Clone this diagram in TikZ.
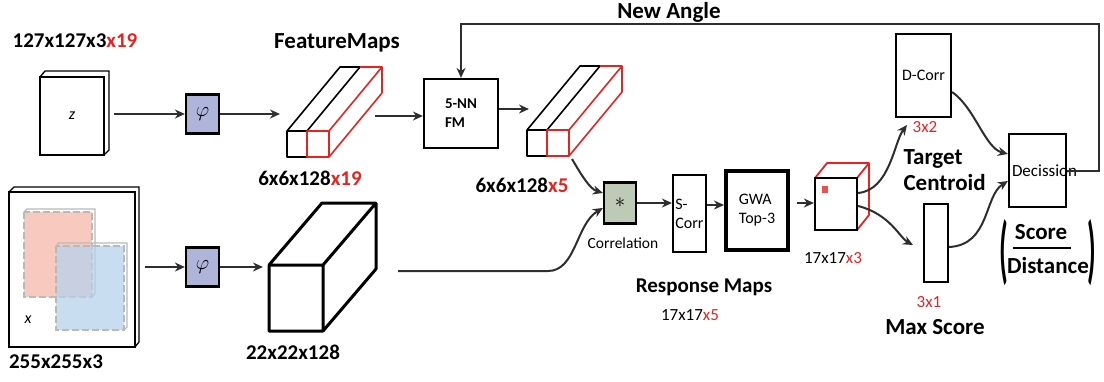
\documentclass[tikz,border=0pt]{standalone}
\usepackage{amsmath}
\usepackage{fontspec}
\setmainfont{Carlito}
\usetikzlibrary{arrows.meta,calc,positioning}
\definecolor{phiblue}{HTML}{AEB4DA}
\definecolor{corrgreen}{HTML}{BCCAB6}
\definecolor{hotred}{HTML}{E8231F}
\definecolor{patchred}{HTML}{F5B8AA}
\definecolor{patchblue}{HTML}{B7D2EC}
\definecolor{arrgray}{HTML}{2E2E2E}

\begin{document}
\begin{tikzpicture}[x=1pt,y=-1pt,
  lbl/.style={font=\fontsize{21}{25}\selectfont\bfseries},
  wrd/.style={font=\fontsize{23}{26}\selectfont\bfseries},
  sml/.style={font=\fontsize{16}{19}\selectfont},
  box/.style={draw,line width=2.2pt,inner sep=1pt,align=left},
  phibox/.style={box,fill=phiblue,minimum width=33pt,minimum height=39pt,font=\fontsize{20}{24}\selectfont},
  arr/.style={-{Stealth[length=10pt,width=9pt]},line width=2pt,draw=arrgray},
  patch/.style={draw=gray!55,dash pattern=on 7pt off 3pt,line width=1.6pt,fill opacity=0.75},
  paren/.style={font=\fontsize{28}{30}\selectfont\bfseries,inner sep=0pt}]
\useasboundingbox (0,0) rectangle (1104,381);

% input crops
\draw[line width=1.3pt] (40,77) -- (45,71) -- (109,71) -- (109,150) -- (104,155);
\node[box,minimum width=64pt,minimum height=78pt] (zimg) at (72,116) {\fontsize{16}{18}\selectfont\itshape z};
\node[lbl] (zsize) at (75,41) {127x127x3\textcolor{hotred}{x19}};

\draw[line width=1.3pt] (9,192) -- (14,187) -- (139,187) -- (139,342) -- (135,347);
\node[box,minimum width=126pt,minimum height=155pt] (ximg) at (72,269.5) {};
\draw[patch,fill=patchred] (24,212) rectangle (92,297);
\draw[draw=gray!55,line width=1.2pt] (24,212) -- (27,209) -- (95,209) -- (95,294) -- (92,297);
\draw[patch,fill=patchblue] (56,246) rectangle (124,330);
\draw[draw=gray!55,line width=1.2pt] (56,246) -- (59,243) -- (127,243) -- (127,327) -- (124,330);
\node[font=\fontsize{16}{18}\selectfont\itshape] (xlab) at (28,320) {x};
\node[lbl] (xsize) at (56,362) {255x255x3};

% backbone
\node[phibox] (phiz) at (202.5,114) {$\varphi$};
\node[phibox] (phix) at (202.5,267) {$\varphi$};
\draw[arr,shorten <=9pt] (zimg.east |- phiz) -- (phiz);
\draw[arr,shorten <=9pt] (ximg.east |- phix) -- (phix);

% feature maps (template and 5-NN)
\foreach \sx/\sy in {0/0,240/-1}{
\begin{scope}[shift={(\sx,\sy)}]
\draw[line width=1.6pt,line join=round] (287,131) rectangle (307,157) (287,131) -- (340,67) -- (360,67) (307,131) -- (360,67);
\draw[hotred,line width=1.6pt,line join=round] (307,131) rectangle (329,157) (360,67) -- (382,67) -- (382,93) -- (329,157) (329,131) -- (382,67);
\end{scope}}
\coordinate (fm1in) at (280,114);
\coordinate (fm1out) at (375,116);
\coordinate (fm2out) at (572,159);
\draw[arr] (phiz) -- (fm1in);
\node[wrd] (fmtitle) at (337,43) {FeatureMaps};
\node[lbl] (fm1size) at (310,178) {6x6x128\textcolor{hotred}{x19}};
\node[lbl] (fm2size) at (522,185) {6x6x128\textcolor{hotred}{x5}};

\node[box,minimum width=74pt,minimum height=69pt,font=\fontsize{15}{19}\selectfont\bfseries] (nnfm) at (461,113.5) {5-NN\\FM};
\draw[arr] (fm1out) -- (nnfm.west |- fm1out);
\coordinate (fm2in) at (529,109);
\draw[arr] (nnfm.east |- fm2in) -- (fm2in);

% search feature map
\draw[line width=3pt,line join=round] (269,265) rectangle (323,331) (269,265) -- (322,203) -- (376,203) -- (376,269) -- (323,331) (323,265) -- (376,203);
\coordinate (bigin) at (263,267);
\coordinate (bigout) at (398,271);
\draw[arr] (phix) -- (bigin);
\node[lbl] (bigsize) at (293,352) {22x22x128};

% correlation chain
\node[box,fill=corrgreen,minimum width=32pt,minimum height=41pt,font=\fontsize{20}{24}\selectfont] (corr) at (620,203) {$\ast$};
\node[font=\fontsize{15.5}{18}\selectfont] (corrlab) at (623,243) {Correlation};
\draw[arr] (fm2out) .. controls (582,176) and (590,189) .. (corr.west |- 0,193);
\draw[arr] (bigout) -- (548,271) .. controls (576,271) and (576,224) .. (corr.west |- 0,208);

\node[box,sml,minimum width=33pt,minimum height=77pt] (scorr) at (689.5,213.5) {S-\\Corr};
\node[box,sml,line width=4pt,minimum width=62pt,minimum height=79pt] (gwa) at (757,210.5) {GWA\\Top-3};
\draw[arr] (corr.east) -- (corr.east -| scorr.west);
\draw[arr] (scorr.east |- 0,205) -- (gwa.west |- 0,205);

\draw[hotred,line width=1.8pt,line join=round] (815,178) -- (827,163) -- (869,163) -- (869,215) -- (857,230) (857,178) -- (869,163);
\node[box,minimum width=42pt,minimum height=52pt] (cube) at (836,204) {};
\fill[hotred!80] (822,186) rectangle (828,193);
\draw[arr,shorten <=7pt] (gwa.east |- 0,203) -- (cube.west |- 0,203);
\node[font=\fontsize{17}{20}\selectfont] (cubesize) at (833,258) {17x17\textcolor{hotred}{x3}};
\node[lbl] (resp) at (704,287) {Response Maps};
\node[font=\fontsize{17}{20}\selectfont] (respsize) at (690,315) {17x17\textcolor{hotred}{x5}};

% decision branch
\node[box,sml,minimum width=55pt,minimum height=83pt] (dcorr) at (923.5,75.5) {D-Corr};
\node[font=\fontsize{17}{20}\selectfont,text=hotred] (dsize) at (925,127) {3x2};
\node[wrd,align=left,anchor=west] (target) at (900,170) {Target\\Centroid};
\node[box,minimum width=24pt,minimum height=78pt] (maxs) at (936,243) {};
\node[font=\fontsize{17}{20}\selectfont,text=hotred] (msize) at (929,302) {3x1};
\node[wrd] (maxlab) at (935,327) {Max Score};

\draw[arr] (cube.east |- 0,193) .. controls (890,190) and (894,142) .. (907,125);
\draw[arr] (cube.east |- 0,206) .. controls (890,214) and (900,238) .. (913,245);

\node[box,text width=51pt,inner sep=3pt,minimum height=73pt,font=\fontsize{17}{20}\selectfont] (dec) at (1037.5,170.5) {Decission};
\draw[arr] (dcorr.east |- 0,92) .. controls (975,108) and (985,148) .. (dec.west |- 0,154);
\draw[arr] (maxs.east |- 0,247) .. controls (990,245) and (984,196) .. (dec.west |- 0,181);

% score / distance
\node[wrd] (score) at (1041,232) {Score};
\node[wrd] (dist) at (1048,266) {Distance};
\draw[line width=1.6pt] (1013,248) -- (1071,248);
\node[paren] (lpar) at (1004,253) {\scalebox{1}[2.65]{(}};
\node[paren] (rpar) at (1092,253) {\scalebox{1}[2.65]{)}};

% feedback
\draw[arr] (dec.east) -- ++(32,0) |- ([yshift=54pt]nnfm.north) -- (nnfm.north);
\node[wrd] (angle) at (669,12) {New Angle};
\end{tikzpicture}
\end{document}
